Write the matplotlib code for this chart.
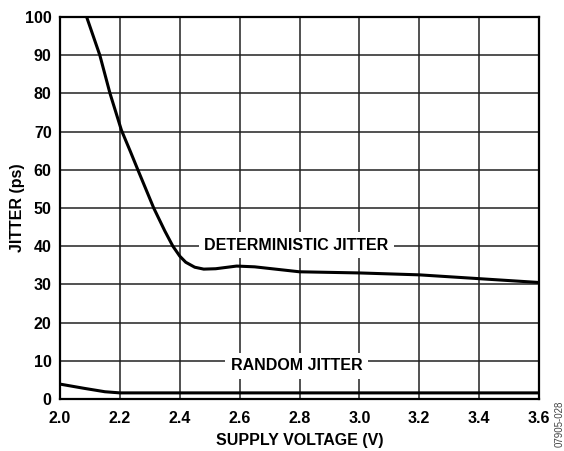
import numpy as np
import matplotlib.pyplot as plt

plt.rcParams['font.family'] = ['Liberation Sans', 'DejaVu Sans']
plt.rcParams['font.weight'] = 'bold'

# deterministic jitter curve
det_v = [2.089, 2.133, 2.167, 2.205, 2.235, 2.26, 2.313, 2.35, 2.377, 2.40, 2.42,
         2.45, 2.48, 2.52, 2.56, 2.59, 2.65, 2.8, 3.0, 3.2, 3.4, 3.6]
det_j = [100, 90, 80, 70.4, 64.8, 60, 50, 44.0, 40, 37.4, 35.8,
         34.5, 34.0, 34.1, 34.5, 34.8, 34.6, 33.3, 33.0, 32.5, 31.5, 30.5]

# random jitter curve
rnd_v = [2.0, 2.08, 2.15, 2.2, 2.4, 3.6]
rnd_j = [3.9, 2.8, 1.9, 1.6, 1.6, 1.6]

xticks = [2.0, 2.2, 2.4, 2.6, 2.8, 3.0, 3.2, 3.4, 3.6]
yticks = [0, 10, 20, 30, 40, 50, 60, 70, 80, 90, 100]

fig = plt.figure(figsize=(5.64, 4.51), dpi=100)
ax = fig.add_axes([0.1064, 0.1153, 0.8493, 0.847])

ax.plot(det_v, det_j, color='black', lw=2.2, zorder=3, solid_joinstyle='round')
ax.plot(rnd_v, rnd_j, color='black', lw=2.2, zorder=3, solid_joinstyle='round')

ax.set_xlim(2.0, 3.6)
ax.set_ylim(0, 100)
ax.set_xticks(xticks)
ax.set_xticklabels(['%.1f' % v for v in xticks])
ax.set_yticks(yticks)
ax.grid(True, color='#222222', lw=1.1)
ax.tick_params(axis='x', length=0, labelsize=11.5, pad=9)
ax.tick_params(axis='y', length=0, labelsize=11.5, pad=6)
for s in ax.spines.values():
    s.set_linewidth(1.6)

box = dict(facecolor='white', edgecolor='none', pad=4)
ax.text(2.79, 40.3, 'DETERMINISTIC JITTER', ha='center', va='center',
        fontsize=11.5, fontweight='bold', bbox=box, zorder=4)
ax.text(2.79, 8.7, 'RANDOM JITTER', ha='center', va='center',
        fontsize=11.5, fontweight='bold', bbox=box, zorder=4)

ax.set_xlabel('SUPPLY VOLTAGE (V)', fontsize=11.5, fontweight='bold', labelpad=5)
ax.set_ylabel('JITTER (ps)', fontsize=11.5, fontweight='bold', labelpad=0)

fig.text(0.993, 0.06, '07905-028', rotation=90, fontsize=7, color='#444444',
         ha='center', va='center', fontweight='normal')

fig.savefig('out.png', dpi=100)
